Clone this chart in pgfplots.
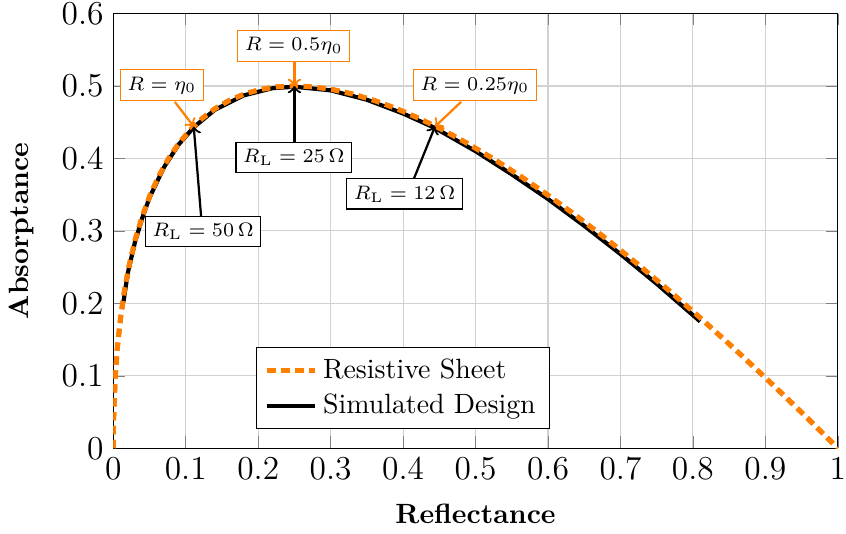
\documentclass[border=0pt]{standalone}
\usepackage{pgfplots}
\pgfplotsset{compat=1.18}

% resistive sheet: points on A = 2 sqrt(R) - 2R, written out
\pgfplotstableread{
R A
0 0
0.0001 0.0198
0.0004 0.0392
0.0025 0.095
0.0056 0.1388
0.01 0.18
0.0156 0.2188
0.0225 0.255
0.0306 0.2888
0.04 0.32
0.0506 0.3488
0.0625 0.375
0.0756 0.3988
0.09 0.42
0.1056 0.4388
0.1225 0.455
0.1406 0.4688
0.16 0.48
0.1806 0.4888
0.2025 0.495
0.2256 0.4988
0.25 0.5
0.2756 0.4988
0.3025 0.495
0.3306 0.4888
0.36 0.48
0.3906 0.4688
0.4225 0.455
0.4556 0.4388
0.49 0.42
0.5256 0.3988
0.5625 0.375
0.6006 0.3488
0.64 0.32
0.6806 0.2888
0.7225 0.255
0.7656 0.2188
0.81 0.18
0.8556 0.1388
0.9025 0.095
0.9506 0.0488
1 0
}\sheettable

\pgfplotstableread{
R A
0.014 0.202
0.02 0.242
0.03 0.285
0.04 0.318
0.05 0.346
0.07 0.388
0.09 0.419
0.111 0.443
0.14 0.467
0.18 0.487
0.22 0.497
0.25 0.499
0.3 0.494
0.35 0.481
0.4 0.462
0.444 0.442
0.5 0.410
0.55 0.378
0.6 0.344
0.65 0.307
0.7 0.268
0.75 0.227
0.81 0.175
}\simtable

\begin{document}
\begin{tikzpicture}[annot/.style={draw, fill=white, font=\fontsize{7.5}{9}\selectfont, inner sep=2.5pt}]
\begin{axis}[
  width=260pt, height=156pt, scale only axis,
  xmin=0, xmax=1, ymin=0, ymax=0.6,
  xtick={0,0.1,...,1}, ytick={0,0.1,...,0.6},
  tick label style={font=\fontsize{13}{15}\selectfont},
  xticklabel style={inner xsep=0pt},
  yticklabel style={inner ysep=1pt},
  grid=major, grid style={gray!35},
  xlabel={\textbf{Reflectance}}, ylabel={\textbf{Absorptance}},
  label style={font=\normalsize},
  ylabel style={yshift=3pt},
  xlabel style={yshift=-2pt},
  legend style={at={(axis cs:0.40,0.083)}, anchor=center, draw=black, font=\normalsize},
  legend cell align=left,
]
\addplot[orange, line width=1.8pt, dash pattern=on 3pt off 2pt] table[x=R,y=A]{\sheettable};
\addlegendentry{Resistive Sheet}
\addplot[black, line width=1.5pt] table[x=R,y=A]{\simtable};
\addlegendentry{Simulated Design}
\addplot[orange, line width=1.8pt, dash pattern=on 3pt off 2pt, forget plot] table[x=R,y=A]{\sheettable};

% orange labels
\draw[orange, thick, ->] (axis cs:0.085,0.478) -- (axis cs:0.111,0.444);
\node[annot, draw=orange] at (axis cs:0.067,0.501) {$R=\eta_0$};
\draw[orange, thick, ->] (axis cs:0.25,0.54) -- (axis cs:0.25,0.5);
\node[annot, draw=orange] at (axis cs:0.249,0.555) {$R=0.5\eta_0$};
\draw[orange, thick, ->] (axis cs:0.480,0.478) -- (axis cs:0.444,0.444);
\node[annot, draw=orange] at (axis cs:0.499,0.501) {$R=0.25\eta_0$};

% black labels
\draw[black, thick, ->] (axis cs:0.122,0.31) -- (axis cs:0.111,0.444);
\node[annot] at (axis cs:0.124,0.299) {$R_\mathrm{L}=50\,\Omega$};
\draw[black, thick, ->] (axis cs:0.25,0.41) -- (axis cs:0.25,0.5);
\node[annot] at (axis cs:0.249,0.401) {$R_\mathrm{L}=25\,\Omega$};
\draw[black, thick, ->] (axis cs:0.41,0.36) -- (axis cs:0.444,0.444);
\node[annot] at (axis cs:0.402,0.351) {$R_\mathrm{L}=12\,\Omega$};
\end{axis}
\end{tikzpicture}
\end{document}
